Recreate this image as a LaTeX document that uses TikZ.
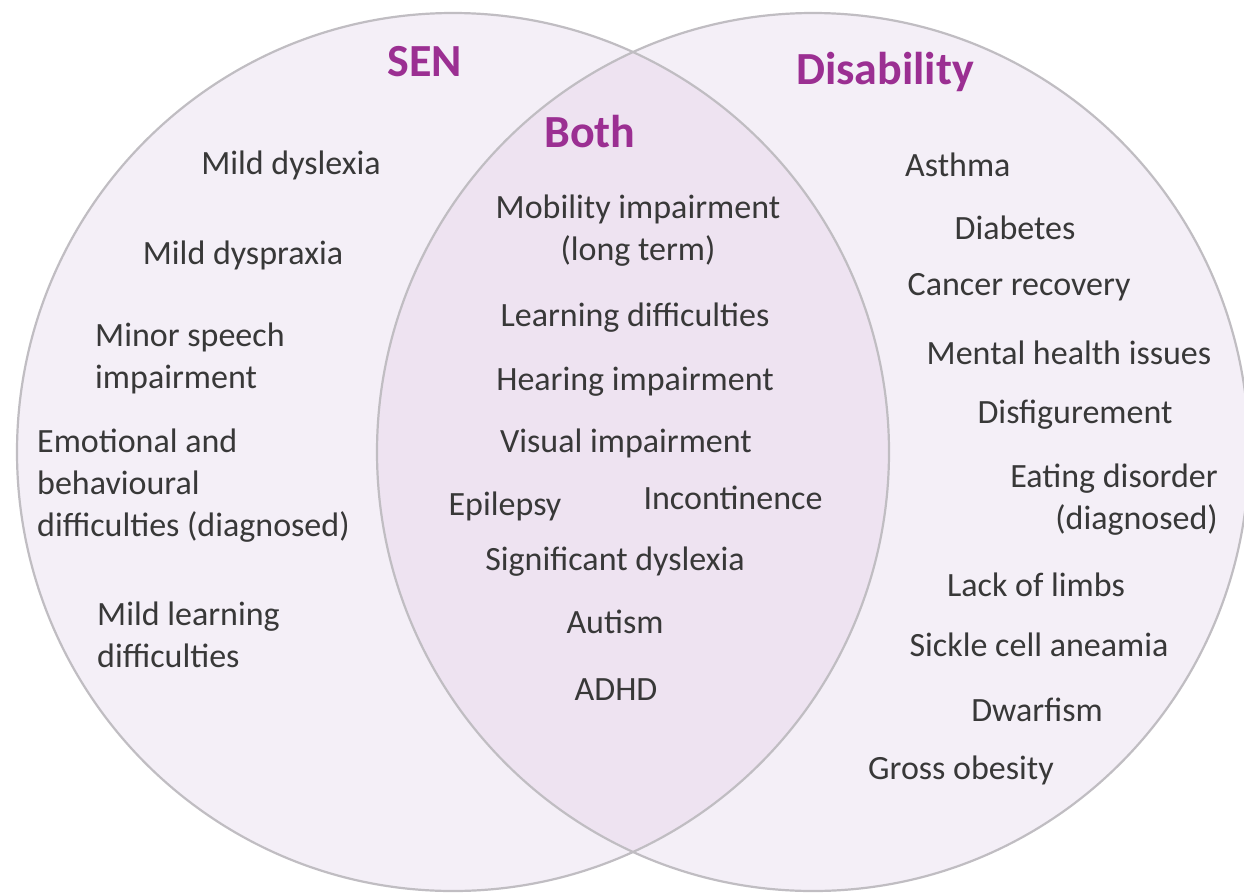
\documentclass[tikz,border=0pt]{standalone}
\usepackage{fontspec}
\setmainfont{Carlito}
\definecolor{vennfill}{HTML}{F4EFF7}
\definecolor{lensfill}{HTML}{EEE3F1}
\definecolor{vennline}{HTML}{C0BDC2}
\definecolor{venntitle}{HTML}{9B2F92}
\definecolor{venntext}{HTML}{383838}

\begin{document}
\begin{tikzpicture}[x=1pt, y=-1pt,
  title/.style={font=\fontsize{46}{55}\selectfont\bfseries, text=venntitle, inner sep=0pt},
  item/.style={font=\fontsize{34}{42}\selectfont, text=venntext, inner sep=0pt}]
\useasboundingbox (0,0) rectangle (1244,892);
\fill[white] (0,0) rectangle (1244,892);
% the two sets
\fill[vennfill] (453,452) ellipse [x radius=436, y radius=439];
\fill[vennfill] (813,452) ellipse [x radius=436, y radius=439];
\begin{scope}
\clip (453,452) ellipse [x radius=436, y radius=439];
\fill[lensfill] (813,452) ellipse [x radius=436, y radius=439];
\end{scope}
\draw[vennline, line width=2.2pt] (453,452) ellipse [x radius=436, y radius=439];
\draw[vennline, line width=2.2pt] (813,452) ellipse [x radius=436, y radius=439];

% titles
\node[title] (sen) at (425,62) {SEN};
\node[title] (disability) at (885,72) {Disability};
\node[title] (both) at (590,132) {Both};

% SEN only
\node[item] (dyslexia) at (291,165) {Mild dyslexia};
\node[item] (dyspraxia) at (243,255) {Mild dyspraxia};
\node[item, anchor=west, align=left] (speech) at (95,358) {Minor speech\\impairment};
\node[item, anchor=west, align=left] (emotional) at (37,486) {Emotional and\\behavioural\\difficulties (diagnosed)};
\node[item, anchor=west, align=left] (learning) at (97,635) {Mild learning\\difficulties};

% both
\node[item, align=center] (mobility) at (638,231) {Mobility impairment\\(long term)};
\node[item] (learndiff) at (635,318) {Learning difficulties};
\node[item] (hearing) at (635,382) {Hearing impairment};
\node[item] (visual) at (626,443) {Visual impairment};
\node[item] (epilepsy) at (505,506) {Epilepsy};
\node[item] (incontinence) at (733,498) {Incontinence};
\node[item] (sigdyslexia) at (615,562) {Significant dyslexia};
\node[item] (autism) at (615,622) {Autism};
\node[item] (adhd) at (616,690) {ADHD};

% disability only
\node[item, anchor=west] (asthma) at (905,165) {Asthma};
\node[item] (diabetes) at (1015,228) {Diabetes};
\node[item] (cancer) at (1019,287) {Cancer recovery};
\node[item] (mental) at (1069,353) {Mental health issues};
\node[item] (disfig) at (1075,415) {Disfigurement};
\node[item, anchor=east, align=right] (eating) at (1218,500) {Eating disorder\\(diagnosed)};
\node[item] (limbs) at (1036,585) {Lack of limbs};
\node[item] (sickle) at (1039,645) {Sickle cell aneamia};
\node[item] (dwarfism) at (1037,710) {Dwarfism};
\node[item] (obesity) at (961,770) {Gross obesity};
\end{tikzpicture}
\end{document}
